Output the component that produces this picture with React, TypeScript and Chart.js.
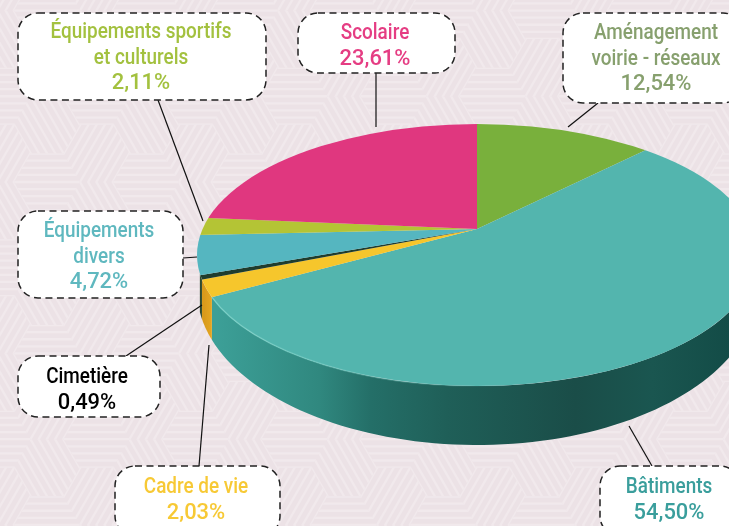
import React, { useEffect, useRef } from "react";
import { Chart, registerables } from "chart.js";

Chart.register(...registerables);

const categories = ["Aménagement voirie - réseaux", "Bâtiments", "Cadre de vie", "Cimetière", "Équipements divers", "Équipements sportifs et culturels", "Scolaire"];
const values = [12.54, 54.5, 2.03, 0.49, 4.72, 2.11, 23.61];
const sliceColors = ["#79b03c", "#53b5ae", "#f6c62c", "#1f3d2e", "#55b6c0", "#b4c435", "#e0377f"];
const labelLines = [["Aménagement", "voirie - réseaux"], ["Bâtiments"], ["Cadre de vie"], ["Cimetière"], ["Équipements", "divers"], ["Équipements sportifs", "et culturels"], ["Scolaire"]];
const labelColors = ["#87a06e", "#3a9e9c", "#f7c935", "#000000", "#5fb8bf", "#a3c13f", "#e53d83"];

// Layout
const W = 729, H = 526;
const APEX = { x: 477, y: 229 }, K = 0.47;
const TOP = { cx: 477, cy: 255, rx: 280, ry: 131 };
const BOT = { cx: 477, cy: 290, rx: 280, ry: 155 };
const boxes = [
  { x: 563, y: 13, w: 180, h: 90, cx: 656, base: 39 },
  { x: 600, y: 466, w: 140, h: 70, cx: 669, base: 493 },
  { x: 115, y: 466, w: 165, h: 70, cx: 196, base: 493 },
  { x: 18, y: 356, w: 142, h: 61, cx: 87, base: 383 },
  { x: 18, y: 211, w: 165, h: 87, cx: 99, base: 237 },
  { x: 18, y: 13, w: 248, h: 87, cx: 141, base: 38 },
  { x: 298, y: 13, w: 157, h: 60, cx: 375, base: 39 },
];
const leaders = [
  [598, 103, 568, 127], [652, 466, 629, 426], [199, 466, 209, 345], [126, 356, 202, 305],
  [183, 258, 197, 257], [158, 100, 203, 221], [376, 73, 376, 127],
];
const LINE_H = 25.7;
const FONT = '500 21.5px Roboto, "Liberation Sans", sans-serif';
const TEXT_SCALE = 0.88;
const PCT_SCALE = 1.02;

function drawBackground(ctx: CanvasRenderingContext2D) {
  ctx.save();
  ctx.fillStyle = "#ece2e6";
  ctx.fillRect(0, 0, W, H);
  const s = 33, h = s * Math.sqrt(3);
  const ox = 47, oy = 182;
  for (let q = -3; q <= 14; q++) {
    for (let r = -10; r <= 12; r++) {
      const x = ox + 1.5 * s * q, y = oy + h * (r + q / 2);
      if (x < -s || x > W + s || y < -s || y > H + s) continue;
      const kind = (((q - r) % 3) + 3) % 3;
      ctx.save();
      ctx.beginPath();
      for (let i = 0; i < 6; i++) {
        const a = (Math.PI / 3) * i;
        ctx[i ? "lineTo" : "moveTo"](x + s * Math.cos(a), y + s * Math.sin(a));
      }
      ctx.closePath();
      ctx.clip();
      ctx.translate(x, y);
      ctx.rotate((kind * Math.PI) / 3);
      ctx.strokeStyle = "#f1e9ec";
      ctx.lineWidth = 2.3;
      for (let d = -5; d <= 5; d++) {
        ctx.beginPath();
        ctx.moveTo(-s * 1.2, d * 7.1);
        ctx.lineTo(s * 1.2, d * 7.1);
        ctx.stroke();
      }
      ctx.restore();
    }
  }
  ctx.restore();
}

// parameter t on the top ellipse hit by a slice's boundary ray
function rayT(theta: number) {
  const dx = Math.cos(theta), dy = K * Math.sin(theta);
  const a = dx / TOP.rx, b = dy / TOP.ry;
  const ex = (APEX.x - TOP.cx) / TOP.rx, ey = (APEX.y - TOP.cy) / TOP.ry;
  const A = a * a + b * b, B = 2 * (a * ex + b * ey), C = ex * ex + ey * ey - 1;
  const l = (-B + Math.sqrt(B * B - 4 * A * C)) / (2 * A);
  return Math.atan2(ey + b * l, ex + a * l);
}

function sideStrip(ctx: CanvasRenderingContext2D, t0: number, t1: number, fill: string | CanvasGradient) {
  ctx.beginPath();
  const n = 80;
  for (let i = 0; i <= n; i++) {
    const t = t0 + ((t1 - t0) * i) / n;
    ctx[i ? "lineTo" : "moveTo"](TOP.cx + TOP.rx * Math.cos(t), TOP.cy + TOP.ry * Math.sin(t));
  }
  for (let i = n; i >= 0; i--) {
    const t = t0 + ((t1 - t0) * i) / n;
    ctx.lineTo(BOT.cx + BOT.rx * Math.cos(t), BOT.cy + BOT.ry * Math.sin(t));
  }
  ctx.closePath();
  ctx.fillStyle = fill;
  ctx.fill();
}

const norm = (t: number) => (t < 0 ? t + Math.PI * 2 : t);

const pie3d = {
  id: "pie3d",
  beforeDraw(chart: any) {
    drawBackground(chart.ctx);
  },
  beforeDatasetsDraw(chart: any) {
    const ctx = chart.ctx;
    const arcs = chart.getDatasetMeta(0).data;
    const g = ctx.createLinearGradient(217, 0, 729, 0);
    g.addColorStop(0, "#3c9f97");
    g.addColorStop(0.2, "#30887f");
    g.addColorStop(0.3, "#246f68");
    g.addColorStop(0.45, "#1f5f58");
    g.addColorStop(0.7, "#1a4d48");
    g.addColorStop(0.85, "#1a5650");
    g.addColorStop(1, "#134c47");
    sideStrip(ctx, 0, norm(rayT(arcs[1].endAngle)), g);
    const gy = ctx.createLinearGradient(204, 0, 220, 0);
    gy.addColorStop(0, "#d89a1c");
    gy.addColorStop(1, "#f2b425");
    sideStrip(ctx, norm(rayT(arcs[2].startAngle)), norm(rayT(arcs[2].endAngle)), gy);
    sideStrip(ctx, norm(rayT(arcs[3].startAngle)), norm(rayT(arcs[3].endAngle)) + 0.012, "#2e4a30");
    ctx.save();
    ctx.beginPath();
    ctx.ellipse(TOP.cx, TOP.cy, TOP.rx, TOP.ry, 0, 0, Math.PI * 2);
    ctx.clip();
    ctx.translate(APEX.x, APEX.y);
    ctx.scale(1, K);
    ctx.translate(-chart.width / 2, -chart.height / 2);
  },
  afterDatasetsDraw(chart: any) {
    const ctx = chart.ctx;
    ctx.restore();
    const arcs = chart.getDatasetMeta(0).data;
    const end = norm(rayT(arcs[1].endAngle));
    const lg = ctx.createLinearGradient(217, 0, 520, 0);
    lg.addColorStop(0, "rgba(130,215,205,0.7)");
    lg.addColorStop(1, "rgba(130,215,205,0)");
    ctx.beginPath();
    ctx.ellipse(TOP.cx, TOP.cy, TOP.rx, TOP.ry, 0, Math.PI / 2 - 0.1, end);
    ctx.strokeStyle = lg;
    ctx.lineWidth = 1.5;
    ctx.stroke();

    ctx.strokeStyle = "#111";
    ctx.lineWidth = 1.2;
    leaders.forEach(([a, b, c, d]) => {
      ctx.beginPath();
      ctx.moveTo(a, b);
      ctx.lineTo(c, d);
      ctx.stroke();
    });
    boxes.forEach((b, i) => {
      ctx.beginPath();
      ctx.roundRect(b.x, b.y, b.w, b.h, 20);
      ctx.fillStyle = "#ffffff";
      ctx.fill();
      ctx.setLineDash([7, 4.5]);
      ctx.lineWidth = 1.5;
      ctx.strokeStyle = "#222";
      ctx.stroke();
      ctx.setLineDash([]);
      const pct = values[i].toFixed(2).replace(".", ",") + "%";
      const lines = [...labelLines[i], pct];
      ctx.font = FONT;
      ctx.fillStyle = labelColors[i];
      ctx.textAlign = "center";
      ctx.textBaseline = "alphabetic";
      lines.forEach((t, j) => {
        ctx.save();
        ctx.translate(b.cx, b.base + j * LINE_H);
        ctx.scale(j === lines.length - 1 ? PCT_SCALE : TEXT_SCALE, 1);
        ctx.fillText(t, 0, 0);
        ctx.restore();
      });
    });
  },
};

export default function App() {
  const ref = useRef<HTMLCanvasElement>(null);
  useEffect(() => {
    const chart = new Chart(ref.current!, {
      type: "pie",
      data: {
        labels: categories,
        datasets: [{ data: values, backgroundColor: sliceColors, borderWidth: 0, clip: false } as any],
      },
      options: {
        responsive: false,
        animation: false,
        radius: 345,
        layout: { padding: 0 },
        plugins: { legend: { display: false }, tooltip: { enabled: false } },
      } as any,
      plugins: [pie3d],
    });
    return () => chart.destroy();
  }, []);
  return (
    <div style={{ position: "fixed", left: 0, top: 0, width: W, height: H, overflow: "hidden" }}>
      <canvas ref={ref} width={W} height={H} style={{ display: "block" }} />
    </div>
  );
}
